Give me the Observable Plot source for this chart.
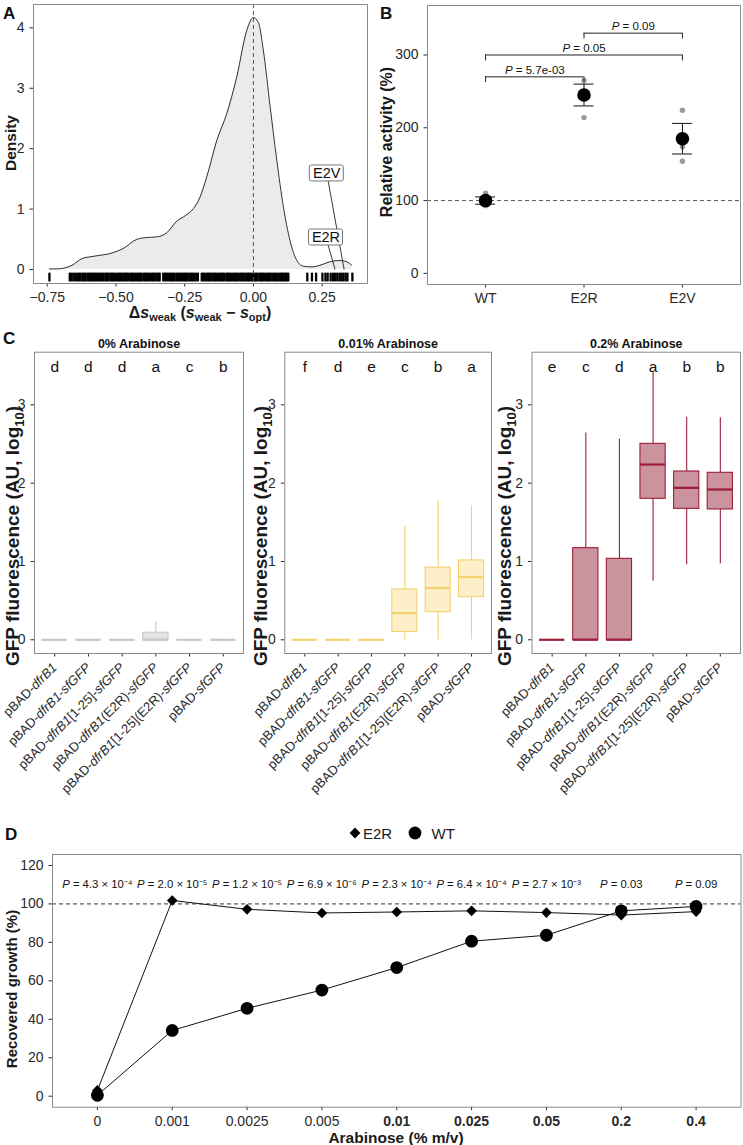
<!DOCTYPE html>
<html><head><meta charset="utf-8">
<script src="https://cdn.jsdelivr.net/npm/d3@7"></script>
<script src="https://cdn.jsdelivr.net/npm/@observablehq/plot@0.6"></script>
<style>
body{margin:0;background:#fff;}
#fig{position:relative;width:743px;height:1145px;font-family:"Liberation Sans",Arial,Helvetica,sans-serif;color:#222;overflow:hidden;background:#fff;}
.letter{position:absolute;font-weight:bold;font-size:17px;line-height:1;color:#111;}
</style></head><body><div id="fig"></div>
<script>
// ---------------- Panel A data ----------------
const densityS = [-0.742,-0.715,-0.66,-0.624,-0.58,-0.51,-0.473,-0.424,-0.388,-0.352,-0.315,-0.279,-0.248,-0.218,-0.194,-0.17,-0.133,-0.097,-0.061,-0.024,0,0.018,0.036,0.061,0.085,0.109,0.133,0.158,0.182,0.212,0.242,0.279,0.315,0.339,0.358];
const densityY = [0.01,0.01,0.07,0.18,0.22,0.28,0.35,0.5,0.53,0.54,0.61,0.8,0.89,1.01,1.2,1.53,2.14,2.58,3.18,3.96,4.17,4.09,3.63,2.69,1.81,1.04,0.48,0.15,0.055,0.044,0.07,0.13,0.15,0.13,0.07];
const rugS = [-0.742,-0.668,-0.662,-0.655,-0.648,-0.641,
 -0.634,-0.629,-0.622,-0.617,-0.611,-0.604,-0.598,-0.593,-0.587,-0.580,-0.575,-0.569,-0.562,-0.556,-0.551,-0.545,-0.538,-0.533,-0.527,-0.520,-0.514,-0.509,-0.503,-0.496,-0.490,-0.485,-0.479,-0.472,-0.466,-0.461,-0.455,-0.448,-0.442,-0.437,-0.431,-0.424,-0.418,-0.413,-0.407,-0.400,-0.394,-0.389,-0.383,-0.376,-0.370,-0.365,-0.359,-0.352,-0.346,-0.341,-0.328,-0.322,-0.317,-0.311,-0.304,-0.298,-0.293,-0.287,-0.280,-0.274,-0.269,-0.263,-0.256,-0.250,-0.245,-0.239,-0.232,-0.226,-0.221,-0.215,-0.208,-0.202,-0.188,-0.183,-0.177,-0.170,-0.164,-0.159,-0.153,-0.146,-0.140,-0.135,-0.129,-0.122,-0.116,-0.111,-0.105,-0.098,-0.092,-0.087,-0.081,-0.074,-0.068,-0.063,-0.057,-0.050,-0.044,-0.039,-0.033,-0.026,-0.020,-0.015,-0.009,-0.002,0.004,0.009,0.015,0.022,0.028,0.033,0.039,0.046,0.052,0.057,0.063,0.070,0.076,0.081,0.087,0.094,0.100,0.105,0.110,
 0.116,0.121,0.127,0.196,0.213,0.228,0.251,0.262,0.270,0.281,0.290,0.297,0.305,0.313,0.320,0.327,0.335,0.342,0.360];
const mutLabels = ["E2V","E2R"];
const mutLabelS = [0.267,0.264];
const mutLabelY = [1.59,0.53];
const mutS = [0.33,0.297];
const aTicksX = [-0.75,-0.5,-0.25,0,0.25];
const aTicksY = [0,1,2,3,4];

// ---------------- Panel B data ----------------
const variants = ["WT","E2R","E2V"];
const meanAct = [100,245,185];
const errLo = [95,230,164];
const errHi = [105,260,206];
const repWT = [110,95,93];
const repE2R = [265,250,214];
const repE2V = [224,174,154];
const bracketFrom = ["WT","WT","E2R"];
const bracketTo = ["E2R","E2V","E2V"];
const bracketY = [270,300,330];
const bracketP = ["P = 5.7e-03","P = 0.05","P = 0.09"];
const bTicksY = [0,100,200,300];

// ---------------- Panel C data ----------------
const constructs = ["pBAD-dfrB1","pBAD-dfrB1-sfGFP","pBAD-dfrB1[1-25]-sfGFP","pBAD-dfrB1(E2R)-sfGFP","pBAD-dfrB1[1-25](E2R)-sfGFP","pBAD-sfGFP"];
const levels = ["0% Arabinose","0.01% Arabinose","0.2% Arabinose"];
const letters0 = ["d","d","d","a","c","b"];
const letters1 = ["f","d","e","c","b","a"];
const letters2 = ["e","c","d","a","b","b"];
const c0Lo=[0,0,0,0,0,0], c0Q1=[0,0,0,0,0,0], c0Med=[0,0,0,0,0,0], c0Q3=[0,0,0,0.09,0,0], c0Hi=[0,0,0,0.235,0,0.01];
const c1Lo=[0,0,0,0,0,0], c1Q1=[0,0,0,0.1,0.353,0.545], c1Med=[0,0,0,0.34,0.66,0.8], c1Q3=[0,0,0,0.643,0.92,1.013], c1Hi=[0,0,0,1.45,1.77,1.715];
const c2Lo=[0,0,0,0.749,0.957,0.97], c2Q1=[0,0,0,1.8,1.672,1.664], c2Med=[0,0,0,2.238,1.94,1.919], c2Q3=[0,1.17,1.034,2.502,2.149,2.132], c2Hi=[0,2.64,2.56,3.417,2.843,2.834];
const cTicksY = [0,1,2,3];

// ---------------- Panel D data ----------------
const arabinose = ["0","0.001","0.0025","0.005","0.01","0.025","0.05","0.2","0.4"];
const growthE2R = [3.0,101.8,97.2,95.3,95.8,96.4,95.5,94.2,96.0];
const growthWT = [0.5,34.2,45.7,55.2,66.9,80.6,83.7,96.4,98.7];
const pLabels = ["P = 4.3 × 10⁻⁴","P = 2.0 × 10⁻⁵","P = 1.2 × 10⁻⁵","P = 6.9 × 10⁻⁶","P = 2.3 × 10⁻⁴","P = 6.4 × 10⁻⁴","P = 2.7 × 10⁻³","P = 0.03","P = 0.09"];
const dTicksY = [0,20,40,60,80,100,120];

// ---------------- helpers ----------------
const FONT = '"Liberation Sans", Arial, Helvetica, sans-serif';
const NS = "http://www.w3.org/2000/svg";
const fig = document.getElementById("fig");
const baseStyle = {fontFamily: FONT, fontSize: "14px", color: "#2a2a2a", background: "transparent", overflow: "visible"};
const intFmt = d => String(d);
function place(el, left, top) {
  el.style.position = "absolute"; el.style.left = left + "px"; el.style.top = top + "px";
  el.style.maxWidth = "none";
  fig.appendChild(el);
}
function italicP(svg) {
  svg.querySelectorAll("text").forEach(t => {
    const s = t.textContent;
    if (s.startsWith("P = ")) {
      t.textContent = "";
      const a = document.createElementNS(NS, "tspan"); a.setAttribute("font-style", "italic"); a.textContent = "P";
      const b = document.createElementNS(NS, "tspan"); b.textContent = s.slice(1);
      t.appendChild(a); t.appendChild(b);
    }
  });
}
function yTitle(svg, x, y, size, parts) {
  const t = d3.select(svg).append("text").attr("transform", `translate(${x},${y}) rotate(-90)`)
    .attr("text-anchor", "middle").attr("font-weight", "bold").attr("font-size", size).attr("fill", "#1a1a1a");
  parts.forEach(p => { const ts = t.append("tspan").text(p.t); if (p.sub) ts.attr("font-size", p.sub).attr("dy", p.dy); else if (p.dy) ts.attr("dy", p.dy); });
  return t;
}

// ---------------- Panel A ----------------
const densData = densityS.map((s, i) => ({s, d: densityY[i]}));
const mutIdx = mutLabels.map((_, i) => i);
const plotA = Plot.plot({
  width: 372, height: 322, marginLeft: 33, marginRight: 5, marginTop: 4, marginBottom: 39,
  style: baseStyle,
  x: {domain: [-0.8, 0.415], ticks: aTicksX, tickFormat: d3.format(".2f"), tickSize: 3.5, label: null},
  y: {domain: [-0.231, 4.386], ticks: aTicksY, tickFormat: intFmt, tickSize: 3.5, label: null},
  marks: [
    Plot.areaY(densData, {x: "s", y: "d", fill: "#ebebeb", curve: "monotone-x"}),
    Plot.lineY(densData, {x: "s", y: "d", stroke: "#1a1a1a", strokeWidth: 0.9, curve: "monotone-x"}),
    Plot.ruleX(rugS, {y1: -0.06, y2: -0.205, stroke: "black", strokeWidth: 2.3}),
    Plot.ruleX([0], {stroke: "#555", strokeDasharray: "4,3"}),
    Plot.link(mutIdx, {x1: i => mutLabelS[i], y1: i => mutLabelY[i], x2: i => mutS[i], y2: 0, stroke: "#222", strokeWidth: 0.9}),
    Plot.rect(mutIdx, {x1: i => mutLabelS[i], x2: i => mutLabelS[i], y1: i => mutLabelY[i], y2: i => mutLabelY[i],
      insetLeft: -17, insetRight: -17, insetTop: -8, insetBottom: -8, fill: "white", stroke: "#777", rx: 2}),
    Plot.text(mutIdx, {x: i => mutLabelS[i], y: i => mutLabelY[i], text: i => mutLabels[i], fontSize: 14.5, fill: "#111"}),
    Plot.frame({stroke: "#8a8a8a"})
  ]
});
{
  const t = d3.select(plotA).append("text").attr("x", 200).attr("y", 318).attr("text-anchor", "middle")
    .attr("font-weight", "bold").attr("font-size", 16).attr("fill", "#1a1a1a");
  const seg = (txt, o = {}) => { const s = t.append("tspan").text(txt); Object.entries(o).forEach(([k, v]) => s.attr(k, v)); };
  seg("Δ"); seg("s", {"font-style": "italic"}); seg("weak", {"font-size": 11, dy: 3});
  seg(" (", {dy: -3}); seg("s", {"font-style": "italic"}); seg("weak", {"font-size": 11, dy: 3});
  seg(" − ", {dy: -3}); seg("s", {"font-style": "italic"}); seg("opt", {"font-size": 11, dy: 3});
  seg(")", {dy: -3});
  yTitle(plotA, 15.5, 143, 15.5, [{t: "Density"}]);
}
place(plotA, 0, 0);

// ---------------- Panel B ----------------
const vIdx = variants.map((_, i) => i);
const reps = [].concat(repWT.map(v => ({i: 0, v})), repE2R.map(v => ({i: 1, v})), repE2V.map(v => ({i: 2, v})));
const bIdx = bracketY.map((_, i) => i);
const vi = name => variants.indexOf(name);
const plotB = Plot.plot({
  width: 373, height: 322, marginLeft: 57, marginRight: 3, marginTop: 5, marginBottom: 38,
  style: baseStyle,
  x: {domain: [-0.59, 2.59], ticks: vIdx, tickFormat: i => variants[i], tickSize: 3.5, label: null},
  y: {domain: [-15.3, 368], ticks: bTicksY, tickFormat: intFmt, tickSize: 3.5, label: null},
  marks: [
    Plot.ruleY([100], {stroke: "#555", strokeDasharray: "4,3"}),
    Plot.dot(reps, {x: "i", y: "v", r: 2.7, fill: "#9a9a9a"}),
    Plot.ruleX(vIdx, {x: i => i, y1: i => errLo[i], y2: i => errHi[i], stroke: "#111"}),
    Plot.ruleY(vIdx, {x1: i => i, x2: i => i, y: i => errLo[i], insetLeft: -10, insetRight: -10, stroke: "#111"}),
    Plot.ruleY(vIdx, {x1: i => i, x2: i => i, y: i => errHi[i], insetLeft: -10, insetRight: -10, stroke: "#111"}),
    Plot.dot(vIdx, {x: i => i, y: i => meanAct[i], r: 6.8, fill: "black"}),
    Plot.ruleY(bIdx, {x1: i => vi(bracketFrom[i]), x2: i => vi(bracketTo[i]), y: i => bracketY[i], stroke: "#222"}),
    Plot.ruleX(bIdx, {x: i => vi(bracketFrom[i]), y1: i => bracketY[i] - 8, y2: i => bracketY[i], stroke: "#222"}),
    Plot.ruleX(bIdx, {x: i => vi(bracketTo[i]), y1: i => bracketY[i] - 8, y2: i => bracketY[i], stroke: "#222"}),
    Plot.text(bIdx, {x: i => (vi(bracketFrom[i]) + vi(bracketTo[i])) / 2, y: i => bracketY[i], dy: -7, text: i => bracketP[i], fontSize: 11.5, fill: "#111"}),
    Plot.frame({stroke: "#8a8a8a"})
  ]
});
italicP(plotB);
yTitle(plotB, 22, 142, 16, [{t: "Relative activity (%)"}]);
place(plotB, 370, 0);

// ---------------- Panel C ----------------
const cIdx = constructs.map((_, i) => i);
const cStats = [
  {lo: c0Lo, q1: c0Q1, med: c0Med, q3: c0Q3, hi: c0Hi, letters: letters0, fill: "#e3e3e3", stroke: "#c8c8c8"},
  {lo: c1Lo, q1: c1Q1, med: c1Med, q3: c1Q3, hi: c1Hi, letters: letters1, fill: "#fdefc8", stroke: "#f5d171"},
  {lo: c2Lo, q1: c2Q1, med: c2Med, q3: c2Q3, hi: c2Hi, letters: letters2, fill: "#ca939e", stroke: "#9c1d37"}
];
const cLayout = [
  {left: 0, width: 250, ml: 34, mr: 7, tx: 19},
  {left: 250, width: 245, ml: 34.3, mr: 4, tx: 16.5},
  {left: 495, width: 248, ml: 36.5, mr: 3, tx: 16}
];
cStats.forEach((st, k) => {
  const L = cLayout[k];
  const p = Plot.plot({
    width: L.width, height: 480, marginLeft: L.ml, marginRight: L.mr, marginTop: 31.7, marginBottom: 147,
    style: baseStyle,
    x: {domain: [-0.6, 5.6], ticks: cIdx, tickFormat: i => constructs[i], tickRotate: -45, tickSize: 3.5, label: null},
    y: {domain: [-0.175, 3.672], ticks: cTicksY, tickFormat: intFmt, tickSize: 3.5, label: null},
    marks: [
      Plot.ruleX(cIdx, {x: i => i, y1: i => st.lo[i], y2: i => st.q1[i], stroke: st.stroke, strokeWidth: 1.1}),
      Plot.ruleX(cIdx, {x: i => i, y1: i => st.q3[i], y2: i => st.hi[i], stroke: st.stroke, strokeWidth: 1.1}),
      Plot.rect(cIdx, {x1: i => i - 0.375, x2: i => i + 0.375, y1: i => st.q1[i], y2: i => st.q3[i], fill: st.fill, stroke: st.stroke, strokeWidth: 1.1}),
      Plot.ruleY(cIdx, {x1: i => i - 0.375, x2: i => i + 0.375, y: i => st.med[i], stroke: st.stroke, strokeWidth: 2.2}),
      Plot.text(cIdx, {x: i => i, y: 3.48, text: i => st.letters[i], fontSize: 15.5, fill: "#111"}),
      Plot.text([levels[k]], {frameAnchor: "top", dy: -13.5, text: d => d, fontSize: 12.5, fontWeight: "bold", fill: "#111"}),
      Plot.frame({stroke: "#8a8a8a"})
    ]
  });
  p.querySelectorAll("text").forEach(t => {
    const s = t.textContent;
    if (constructs.includes(s)) {
      t.textContent = "";
      s.split(/(dfrB1|sfGFP)/).filter(x => x).forEach(part => {
        const ts = document.createElementNS(NS, "tspan");
        if (part === "dfrB1" || part === "sfGFP") ts.setAttribute("font-style", "italic");
        ts.textContent = part; t.appendChild(ts);
      });
      t.style.fontSize = "13px";
    }
  });
  yTitle(p, L.tx, 216, 19, [{t: "GFP fluorescence (AU, log"}, {t: "10", sub: 13, dy: 5}, {t: ")", dy: -5}]);
  place(p, L.left, 320);
});

// ---------------- Panel D ----------------
const aIdx = arabinose.map((_, i) => i);
const plotD = Plot.plot({
  width: 743, height: 305, marginLeft: 52, marginRight: 2.5, marginTop: 14, marginBottom: 38.3,
  style: baseStyle,
  x: {domain: [-0.6, 8.6], ticks: aIdx, tickFormat: i => arabinose[i], tickSize: 3.5, label: null},
  y: {domain: [-5.72, 125.7], ticks: dTicksY, tickFormat: intFmt, tickSize: 3.5, label: null},
  marks: [
    Plot.ruleY([100], {stroke: "#333", strokeDasharray: "4,3"}),
    Plot.line(aIdx, {x: i => i, y: i => growthE2R[i], stroke: "#111", strokeWidth: 1}),
    Plot.line(aIdx, {x: i => i, y: i => growthWT[i], stroke: "#111", strokeWidth: 1}),
    Plot.text(aIdx, {x: i => i, y: 110, text: i => pLabels[i], fontSize: 11.3, fill: "#111"}),
    Plot.dot(aIdx, {x: i => i, y: i => growthE2R[i], symbol: "diamond2", r: 4.8, fill: "black"}),
    Plot.dot(aIdx, {x: i => i, y: i => growthWT[i], r: 6.4, fill: "black"}),
    Plot.frame({stroke: "#8a8a8a"})
  ]
});
italicP(plotD);
plotD.querySelectorAll("text").forEach(t => {
  const idx = arabinose.indexOf(t.textContent);
  if (idx >= 4) t.setAttribute("font-weight", "bold");
});
d3.select(plotD).append("text").attr("x", 396).attr("y", 302.5).attr("text-anchor", "middle")
  .attr("font-weight", "bold").attr("font-size", 15.5).attr("fill", "#1a1a1a").text("Arabinose (% m/v)");
yTitle(plotD, 17, 149, 15, [{t: "Recovered growth (%)"}]);
place(plotD, 0, 840);

// legend for D
{
  const lg = d3.create("svg").attr("width", 130).attr("height", 22).style("font-family", FONT);
  lg.append("path").attr("d", d3.symbol(d3.symbolDiamond2, 74)()).attr("transform", "translate(9,11)").attr("fill", "black");
  lg.append("text").attr("x", 17).attr("y", 16.5).attr("font-size", 15).attr("fill", "#1a1a1a").text("E2R");
  lg.append("circle").attr("cx", 69).attr("cy", 11).attr("r", 6.4).attr("fill", "black");
  lg.append("text").attr("x", 85.5).attr("y", 16.5).attr("font-size", 15).attr("fill", "#1a1a1a").text("WT");
  place(lg.node(), 346, 822);
}

// panel letters
[["A", 3, 5], ["B", 380, 5], ["C", 3, 330], ["D", 5, 826]].forEach(([l, x, y]) => {
  const d = document.createElement("div"); d.className = "letter"; d.textContent = l;
  d.style.left = x + "px"; d.style.top = y + "px"; fig.appendChild(d);
});
</script></body></html>
